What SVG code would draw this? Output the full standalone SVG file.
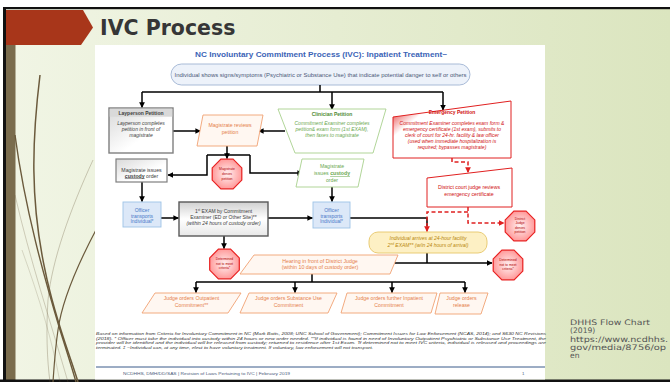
<svg xmlns="http://www.w3.org/2000/svg" width="670" height="382" viewBox="0 0 670 382">
<defs>
  <linearGradient id="bg" x1="0" y1="0" x2="1" y2="0">
    <stop offset="0" stop-color="#f1f5e5"/>
    <stop offset="1" stop-color="#dbe5bf"/>
  </linearGradient>
  <linearGradient id="grayBox" x1="0" y1="0" x2="1" y2="1">
    <stop offset="0" stop-color="#d9d9d9"/>
    <stop offset="0.6" stop-color="#ffffff"/>
  </linearGradient>
  <linearGradient id="grayBox2" x1="0" y1="0" x2="0" y2="1">
    <stop offset="0" stop-color="#d0d0d0"/>
    <stop offset="0.5" stop-color="#ffffff"/>
    <stop offset="1" stop-color="#e8e8e8"/>
  </linearGradient>
  <linearGradient id="redWedge" x1="0" y1="0" x2="1" y2="0.6">
    <stop offset="0" stop-color="#e01010"/>
    <stop offset="0.28" stop-color="#ffffff"/>
  </linearGradient>
  <radialGradient id="octFill" cx="0.5" cy="0.5" r="0.6">
    <stop offset="0" stop-color="#fff2f2"/>
    <stop offset="1" stop-color="#ff8a8a"/>
  </radialGradient>
  <polygon id="oct" points="6.1,-14.8 14.8,-6.1 14.8,6.1 6.1,14.8 -6.1,14.8 -14.8,6.1 -14.8,-6.1 -6.1,-14.8"/>
  <marker id="ah" viewBox="0 0 10 10" refX="9" refY="5" markerWidth="3.8" markerHeight="3.8" orient="auto" markerUnits="strokeWidth">
    <path d="M0,0 L10,5 L0,10 z" fill="#000"/>
  </marker>
  <marker id="ahr" viewBox="0 0 10 10" refX="9" refY="5" markerWidth="3.8" markerHeight="3.8" orient="auto" markerUnits="strokeWidth">
    <path d="M0,0 L10,5 L0,10 z" fill="#e02020"/>
  </marker>
  <style>
    .t { font-family: "Liberation Sans", Arial, sans-serif; text-anchor: middle; }
    .body { font-size: 5px; font-style: italic; }
    .hd { font-size: 5px; font-weight: bold; }
    .gray { fill: #404040; }
    .orange { fill: #e5804a; }
    .green { fill: #6aa84f; }
    .dgreen { fill: #4e8a36; }
    .red { fill: #d01010; }
    .blue { fill: #4a78c8; }
    .oct { fill: url(#octFill); stroke: #e82020; stroke-width: 1.2; }
    .octt { font-size: 3.4px; fill: #b00000; }
    .obox { fill: #fff7f1; stroke: #f1a273; stroke-width: 0.9; }
    .gbox { fill: #ffffff; stroke: #a8d08d; stroke-width: 0.9; }
    .rbox { stroke: #e02020; stroke-width: 1; }
    .bbox { fill: #dce8f8; stroke: #9dc3e6; stroke-width: 0.9; }
    .conn { fill: none; stroke: #000; stroke-width: 1.5; }
    .dash { fill: none; stroke: #e02020; stroke-width: 1.5; stroke-dasharray: 4 2.5; }
    .curve { fill: none; stroke: #6b5a3c; }
  </style>
</defs>

<!-- slide background -->
<rect x="0" y="0" width="670" height="382" fill="#ffffff"/>
<rect x="4" y="7" width="666" height="375" fill="url(#bg)"/>
<rect x="4" y="7" width="666" height="2.2" fill="#111"/>
<rect x="3" y="7" width="3" height="375" fill="#111"/>
<rect x="6" y="45" width="9.5" height="337" fill="#7a6c4d"/>
<rect x="0" y="379.5" width="670" height="2.5" fill="#111"/>
<polygon points="6,10 83,10 93,27.5 81,45 6,45" fill="#a8361a"/>
<text x="100" y="35" font-family="DejaVu Sans, sans-serif" font-size="20.5" font-weight="bold" fill="#363636">IVC Process</text>

<!-- decorative curves -->
<g id="curves">
  <path class="curve" stroke-width="1.5" d="M40,75 C32,140 30,200 45,270 C55,320 70,355 78,382"/>
  <path class="curve" stroke-width="1.4" d="M15,135 C25,210 45,280 60,330 C67,352 72,368 76,382"/>
  <path class="curve" stroke-width="1.2" d="M97,228 C80,260 62,300 58,330 C55,350 54,368 53,382"/>
  <path class="curve" stroke-width="0.9" opacity="0.35" d="M93,160 C70,210 52,260 48,300 C46,330 47,360 50,382"/>
  <path class="curve" stroke-width="0.9" opacity="0.3" d="M15,195 C30,260 50,320 68,382"/>
  <path class="curve" stroke-width="0.8" opacity="0.25" d="M22,250 C40,300 52,340 60,382"/>
</g>

<!-- embedded chart panel -->
<rect x="95" y="45" width="450" height="334.5" fill="#ffffff"/>

<g id="chart-title">
  <text class="t" x="321" y="57" font-size="7.2" font-weight="bold" fill="#3b63b6" textLength="252" lengthAdjust="spacingAndGlyphs">NC Involuntary Commitment Process (IVC): Inpatient Treatment~</text>
</g>

<g id="start">
  <rect x="171" y="64" width="299" height="21" rx="10.5" fill="#edf2fa" stroke="#9fb3d3" stroke-width="0.9"/>
  <text class="t" x="320.5" y="76.5" font-size="4.9" fill="#4a5878" textLength="292" lengthAdjust="spacingAndGlyphs">Individual shows signs/symptoms (Psychiatric or Substance Use) that indicate potential danger to self or others</text>
</g>

<!-- connectors -->
<g id="connectors">
  <path class="conn" d="M320,85 V92"/>
  <path class="conn" d="M142,92 H443"/>
  <path class="conn" marker-end="url(#ah)" d="M142,92 V107.5"/>
  <path class="conn" marker-end="url(#ah)" d="M332,92 V109.5"/>
  <path class="conn" marker-end="url(#ah)" d="M443,92 V110"/>
  <path class="conn" marker-end="url(#ah)" d="M173,131 H200.5"/>
  <path class="conn" marker-end="url(#ah)" d="M285,131 H258.5"/>
  <path class="conn" d="M227,145 V155"/>
  <path class="conn" marker-end="url(#ah)" d="M227,153 V158.5"/>
  <path class="conn" d="M207,155 H250"/>
  <path class="conn" marker-end="url(#ah)" d="M207,155 V175 H168"/>
  <path class="conn" marker-end="url(#ah)" d="M250,155 V173 H302.5"/>
  <path class="conn" marker-end="url(#ah)" d="M142,182 V201.5"/>
  <path class="conn" marker-end="url(#ah)" d="M161,218 H178.5"/>
  <path class="conn" marker-end="url(#ah)" d="M268,218 H312.5"/>
  <path class="conn" marker-end="url(#ah)" d="M224,236 V248.5"/>
  <path class="conn" marker-end="url(#ah)" d="M332,186 V201.5"/>
  <path class="conn" d="M350,218 H427 V226"/>
  <path class="dash" marker-end="url(#ahr)" d="M452,158 V162 H468 V172.5"/>
  <path class="dash" marker-end="url(#ahr)" d="M468,207 V223 H504"/>
  <path class="dash" marker-end="url(#ahr)" d="M468,212 H427 V231.5"/>
  <path class="conn" d="M427,253 V263"/>
  <path class="conn" marker-end="url(#ah)" d="M395,263 H492"/>
  <path class="conn" d="M312,274 V282"/>
  <path class="conn" d="M196,282 H465"/>
  <path class="conn" marker-end="url(#ah)" d="M196,282 V292.5"/>
  <path class="conn" marker-end="url(#ah)" d="M295,282 V292.5"/>
  <path class="conn" marker-end="url(#ah)" d="M392,282 V292.5"/>
  <path class="conn" marker-end="url(#ah)" d="M465,282 V292.5"/>
</g>

<g id="layperson-petition">
  <rect x="109" y="108" width="64" height="45" fill="url(#grayBox)" stroke="#7f7f7f" stroke-width="1.4"/>
  <rect x="109.7" y="108.7" width="62.6" height="8" fill="#d9d9d9"/>
  <text class="t hd gray" x="141" y="114.6">Layperson Petition</text>
  <text class="t body gray" x="141" y="125">Layperson completes</text>
  <text class="t body gray" x="141" y="131">petition in front of</text>
  <text class="t body gray" x="141" y="137">magistrate</text>
</g>

<g id="magistrate-reviews">
  <polygon class="obox" points="203,115 263,115 257,146 197,146" fill="#ffffff"/>
  <text class="t orange" x="230" y="127" font-size="5.2">Magistrate reviews</text>
  <text class="t orange" x="230" y="134" font-size="5.2">petition</text>
</g>

<g id="clinician-petition">
  <polygon class="gbox" points="278,109 386,109 373,153 295,153"/>
  <text class="t hd dgreen" x="332" y="116">Clinician Petition</text>
  <text class="t body green" x="332" y="125">Commitment Examiner completes</text>
  <text class="t body green" x="332" y="131">petition&amp; exam form (1st EXAM),</text>
  <text class="t body green" x="332" y="137">then faxes to magistrate</text>
</g>

<g id="emergency-petition">
  <polygon class="rbox" points="393,117 511,101 511,158 393,158" fill="url(#redWedge)"/>
  <text class="t hd red" x="452" y="113.5">Emergency Petition</text>
  <text class="t body red" x="452" y="125">Commitment Examiner completes exam form &amp;</text>
  <text class="t body red" x="452" y="131">emergency certificate (1st exam), submits to</text>
  <text class="t body red" x="452" y="137">clerk of court for 24-hr. facility &amp; law officer</text>
  <text class="t body red" x="452" y="143">(used when immediate hospitalization is</text>
  <text class="t body red" x="452" y="149">required; bypasses magistrate)</text>
</g>

<g id="magistrate-denies">
  <use href="#oct" class="oct" transform="translate(227,174)"/>
  <text class="t octt" x="227" y="170">Magistrate</text>
  <text class="t octt" x="227" y="174.8">denies</text>
  <text class="t octt" x="227" y="179.6">petition</text>
</g>

<g id="custody-order-left">
  <rect x="116" y="159" width="51" height="23" fill="url(#grayBox)" stroke="#7f7f7f" stroke-width="1.2"/>
  <text class="t gray" x="141.5" y="171.5" font-size="5.2">Magistrate issues</text>
  <text class="t gray" x="141.5" y="177.5" font-size="5.2"><tspan font-weight="bold" text-decoration="underline">custody</tspan> order</text>
</g>

<g id="custody-order-right">
  <polygon class="gbox" points="302,159 364,159 358,187 296,187"/>
  <text class="t green" x="332" y="167.5" font-size="5.2">Magistrate</text>
  <text class="t green" x="332" y="175" font-size="5.2">issues <tspan font-weight="bold" text-decoration="underline">custody</tspan></text>
  <text class="t green" x="332" y="182" font-size="5.2">order</text>
</g>

<g id="officer-left">
  <rect class="bbox" x="123" y="202" width="38" height="25"/>
  <text class="t blue" x="142" y="211.8" font-size="5">Officer</text>
  <text class="t blue" x="142" y="217.6" font-size="5">transports</text>
  <text class="t blue" x="142" y="223.4" font-size="5">Individual*</text>
</g>

<g id="first-exam">
  <rect x="179" y="202" width="89" height="34" fill="url(#grayBox2)" stroke="#595959" stroke-width="1.4"/>
  <text class="t gray" x="223.5" y="212.8" font-size="5">1<tspan font-size="3.2" dy="-1.5">st</tspan><tspan dy="1.5"> EXAM by Commitment</tspan></text>
  <text class="t gray" x="223.5" y="218.8" font-size="5">Examiner (ED or Other Site)**</text>
  <text class="t gray body" x="223.5" y="225" font-size="5">(within 24 hours of custody order)</text>
</g>

<g id="officer-right">
  <rect class="bbox" x="313" y="202" width="37" height="26"/>
  <text class="t blue" x="331.5" y="211.8" font-size="5">Officer</text>
  <text class="t blue" x="331.5" y="217.6" font-size="5">transports</text>
  <text class="t blue" x="331.5" y="223.4" font-size="5">Individual*</text>
</g>

<g id="not-meet-left">
  <use href="#oct" class="oct" transform="translate(224.5,264)"/>
  <text class="t octt" x="224.5" y="259.8">Determined</text>
  <text class="t octt" x="224.5" y="264.6">not to meet</text>
  <text class="t octt" x="224.5" y="269.4">criteria*</text>
</g>

<g id="district-court-reviews">
  <polygon class="rbox" points="427,178 512,168 512,207 427,207" fill="#ffffff"/>
  <text class="t red" x="469" y="189" font-size="5.2">District court judge reviews</text>
  <text class="t red" x="469" y="195.5" font-size="5.2">emergency certificate</text>
</g>

<g id="district-judge-denies">
  <use href="#oct" class="oct" transform="translate(520,226)"/>
  <text class="t octt" x="520" y="219.5">District</text>
  <text class="t octt" x="520" y="224">Judge</text>
  <text class="t octt" x="520" y="228.5">denies</text>
  <text class="t octt" x="520" y="233">petition</text>
</g>

<g id="arrives-facility">
  <rect x="369" y="232" width="118" height="21" rx="9" fill="#fdf0c4" stroke="#e6c66a" stroke-width="0.9"/>
  <text class="t body" x="428" y="240" fill="#b8860b">Individual arrives at 24-hour facility</text>
  <text class="t body" x="428" y="246.5" fill="#b8860b">2<tspan font-size="3.2" dy="-1.5">nd</tspan><tspan dy="1.5"> EXAM** (w/in 24 hours of arrival)</tspan></text>
</g>

<g id="not-meet-right">
  <use href="#oct" class="oct" transform="translate(508,265)"/>
  <text class="t octt" x="508" y="260.8">Determined</text>
  <text class="t octt" x="508" y="265.6">not to meet</text>
  <text class="t octt" x="508" y="270.4">criteria*</text>
</g>

<g id="hearing">
  <polygon class="obox" points="254,255 398,255 390,274 240,274"/>
  <text class="t orange" x="320" y="262.5" font-size="5.3">Hearing in front of District Judge</text>
  <text class="t orange" x="320" y="269.3" font-size="5.3">(within 10 days of custody order)</text>
</g>

<g id="outpatient">
  <polygon class="obox" points="155,293 241,293 228,313 142,313"/>
  <text class="t orange" x="191.5" y="300" font-size="5.2">Judge orders Outpatient</text>
  <text class="t orange" x="191.5" y="306.5" font-size="5.2">Commitment**</text>
</g>
<g id="substance-use">
  <polygon class="obox" points="249,293 337,293 328,313 240,313"/>
  <text class="t orange" x="288.5" y="300" font-size="5.2">Judge orders Substance Use</text>
  <text class="t orange" x="288.5" y="306.5" font-size="5.2">Commitment</text>
</g>
<g id="further-inpatient">
  <polygon class="obox" points="347,293 437,293 431,313 341,313"/>
  <text class="t orange" x="389" y="300" font-size="5.2">Judge orders further Inpatient</text>
  <text class="t orange" x="389" y="306.5" font-size="5.2">Commitment</text>
</g>
<g id="release">
  <polygon class="obox" points="440,293 488,293 481,314 435,314"/>
  <text class="t orange" x="461.5" y="300" font-size="5.2">Judge orders</text>
  <text class="t orange" x="461.5" y="306.5" font-size="5.2">release</text>
</g>

<g id="footnote" font-family="Liberation Sans, Arial, sans-serif" font-size="4" font-style="italic" fill="#333">
  <text x="96" y="335" textLength="450" lengthAdjust="spacingAndGlyphs">Based on information from Criteria for Involuntary Commitment in NC (Mark Botts, 2008; UNC School of Government); Commitment Issues for Law Enforcement (NCAS, 2014); and S630 NC Revisions</text>
  <text x="96" y="339.6" textLength="450" lengthAdjust="spacingAndGlyphs">(2018). * Officer must take the individual into custody within 24 hours or new order needed. **If individual is found in need of Involuntary Outpatient Psychiatric or Substance Use Treatment, the</text>
  <text x="96" y="344.2" textLength="450" lengthAdjust="spacingAndGlyphs">provider will be identified and the individual will be released from custody; returned to residence after 1st Exam. ⁺If determined not to meet IVC criteria, individual is released and proceedings are</text>
  <text x="96" y="348.8" textLength="277" lengthAdjust="spacingAndGlyphs">terminated. ‡ ~Individual can, at any time, elect to have voluntary treatment. If voluntary, law enforcement will not transport.</text>
</g>

<g id="footer">
  <line x1="96" y1="367" x2="545" y2="367" stroke="#3a5a8a" stroke-width="1"/>
  <text x="123" y="374.5" font-family="Liberation Sans, Arial, sans-serif" font-size="4.3" fill="#4a5a7a" textLength="167" lengthAdjust="spacingAndGlyphs">NCDHHS, DMH/DD/SAS | Revision of Laws Pertaining to IVC | February 2019</text>
  <text x="522" y="374.5" font-family="Liberation Sans, Arial, sans-serif" font-size="4.3" fill="#4a5a7a">1</text>
</g>

<g id="source" font-family="DejaVu Sans, sans-serif" font-size="7.6" fill="#555">
  <text x="570" y="325" textLength="80" lengthAdjust="spacingAndGlyphs">DHHS Flow Chart</text>
  <text x="570" y="333.3">(2019)</text>
  <text x="570" y="341.6" textLength="98" lengthAdjust="spacingAndGlyphs">https://www.ncdhhs.</text>
  <text x="570" y="349.9" textLength="96" lengthAdjust="spacingAndGlyphs">gov/media/8756/op</text>
  <text x="570" y="358.2">en</text>
</g>
</svg>
